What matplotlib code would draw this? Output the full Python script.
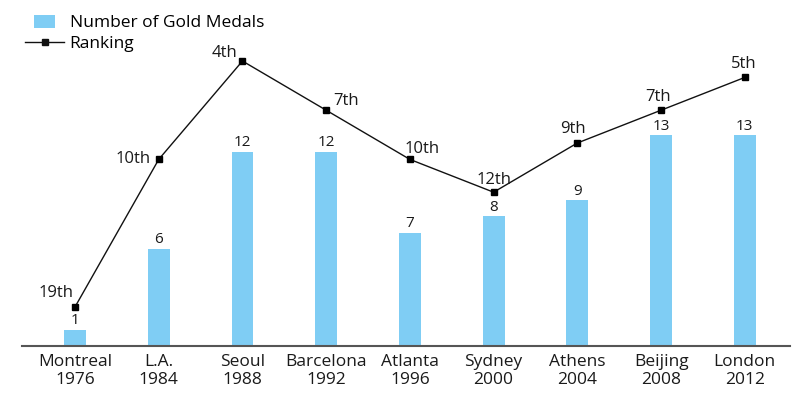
import matplotlib.pyplot as plt
from matplotlib.legend_handler import HandlerPatch
from matplotlib.lines import Line2D
from matplotlib.patches import Patch, Rectangle

plt.rcParams["font.family"] = ["Open Sans", "DejaVu Sans"]

cities = ["Montreal\n1976", "L.A.\n1984", "Seoul\n1988", "Barcelona\n1992", "Atlanta\n1996",
          "Sydney\n2000", "Athens\n2004", "Beijing\n2008", "London\n2012"]
gold_medals = [1, 6, 12, 12, 7, 8, 9, 13, 13]
ranking = [19, 10, 4, 7, 10, 12, 9, 7, 5]
# label offsets in points (dx, dy, ha, va)
rank_offsets = [(-1, 4, "right", "bottom"), (-6, 0, "right", "center"), (-4, 0, "right", "bottom"),
                (5, 1, "left", "bottom"), (-4, 2, "left", "bottom"), (0, 3, "center", "bottom"),
                (-3, 4, "center", "bottom"), (-2, 4, "center", "bottom"), (-1, 4, "center", "bottom")]

fig = plt.figure(figsize=(7.96, 3.93), dpi=100)
ax = fig.add_axes([22 / 796, 47 / 393, 768 / 796, 324 / 393])
xs = list(range(len(cities)))

ax.bar(xs, gold_medals, width=0.26, color="#7fcdf4", zorder=2)
for x, v in zip(xs, gold_medals):
    ax.annotate(str(v), (x, v), xytext=(0, 1), textcoords="offset points",
                ha="center", va="bottom", fontsize=11, color="#1a1a1a")

ax.set_xlim(-0.633, 8.54)
ax.set_ylim(0, 20)
ax.set_xticks(xs)
ax.set_xticklabels(cities, fontsize=12.5, color="#1a1a1a", linespacing=1.15)
ax.tick_params(axis="x", length=0, pad=6)
ax.set_yticks([])
for side in ["left", "right", "top"]:
    ax.spines[side].set_visible(False)
ax.spines["bottom"].set_color("#555555")
ax.spines["bottom"].set_linewidth(1.5)

ax2 = ax.twinx()
ax2.plot(xs, ranking, color="#111111", linewidth=1.0, marker="s", markersize=5,
         markerfacecolor="black", markeredgecolor="black", zorder=3)
for x, r, (dx, dy, ha, va) in zip(xs, ranking, rank_offsets):
    ax2.annotate(f"{r}th", (x, r), xytext=(dx, dy), textcoords="offset points",
                 ha=ha, va=va, fontsize=12, color="#1a1a1a")
ax2.set_ylim(21.38, 1.62)
ax2.set_yticks([])
for side in ["left", "right", "top", "bottom"]:
    ax2.spines[side].set_visible(False)


def _narrow_patch(legend, orig_handle, xdescent, ydescent, width, height, fontsize):
    w = width * 0.55
    return Rectangle((-xdescent + (width - w) / 2, -ydescent - height * 0.15), w, height * 1.1)


handles = [Patch(facecolor="#7fcdf4", edgecolor="none"),
           Line2D([], [], color="#111111", linewidth=1.0, marker="s", markersize=5)]
fig.legend(handles, ["Number of Gold Medals", "Ranking"], loc="upper left",
           bbox_to_anchor=(15 / 796, 1 - 4 / 393), frameon=False, fontsize=12.5,
           handlelength=2.2, handletextpad=0.35, labelspacing=0.3, borderaxespad=0.2,
           handler_map={Patch: HandlerPatch(patch_func=_narrow_patch)})

fig.savefig("out.png", dpi=100)
